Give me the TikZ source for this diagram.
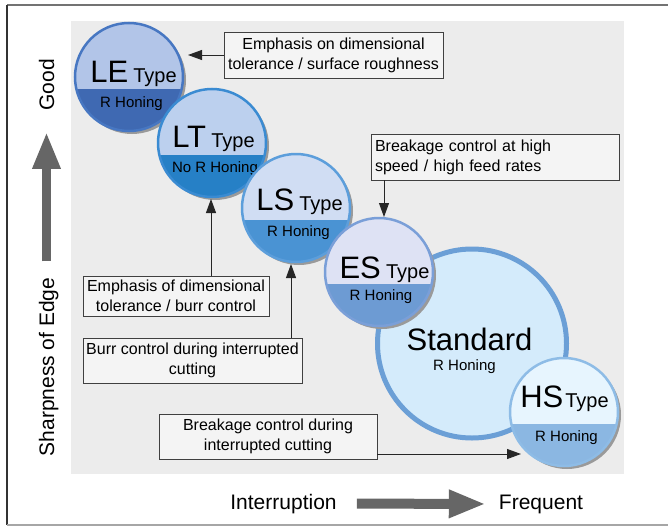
\documentclass[tikz,border=0pt]{standalone}
\usepackage{fontspec}
\setmainfont{Liberation Sans}
\usetikzlibrary{arrows.meta}

\definecolor{panelgray}{HTML}{ECECEC}
\definecolor{boxgray}{HTML}{404040}
\definecolor{axisgray}{HTML}{666666}
\definecolor{shadowgray}{HTML}{9A9A9A}
\definecolor{leTop}{HTML}{B2C5E8}
\definecolor{leBot}{HTML}{3F69B2}
\definecolor{leRing}{HTML}{4777C2}
\definecolor{ltTop}{HTML}{BCD0EE}
\definecolor{ltBot}{HTML}{2680C6}
\definecolor{ltRing}{HTML}{3A8BD2}
\definecolor{lsTop}{HTML}{D0DDF3}
\definecolor{lsBot}{HTML}{4A93D3}
\definecolor{lsRing}{HTML}{5C9EDB}
\definecolor{esTop}{HTML}{DEE2F4}
\definecolor{esBot}{HTML}{6D9BD3}
\definecolor{esRing}{HTML}{7A9FD8}
\definecolor{stdFill}{HTML}{D4EBFB}
\definecolor{stdRing}{HTML}{6B9FD6}
\definecolor{hsTop}{HTML}{E7F5FE}
\definecolor{hsBot}{HTML}{8BB7E2}
\definecolor{hsRing}{HTML}{8EBCE6}

\newcommand{\gradefont}{\fontsize{31}{31}\selectfont}
\newcommand{\kindfont}{\fontsize{20}{20}\selectfont}
\newcommand{\honefont}{\fontsize{15}{15}\selectfont}

% two-tone insert circle: name, x, y, top, bottom, ring
\newcommand{\tipcircle}[6]{%
    \fill[shadowgray] (#2+3, #3+3) circle (54);
    \begin{scope}
        \clip (#2, #3) circle (54);
        \fill[#4] (#2-54, #3-54) rectangle (#2+54, #3+12);
        \fill[#5] (#2-54, #3+12) rectangle (#2+54, #3+54);
    \end{scope}
    \node[circle, draw=#6, line width=2.5pt, minimum size=108pt, inner sep=0pt] (#1) at (#2, #3) {};
}

\tikzset{
    callout/.style={draw=boxgray, line width=0.8pt, fill=white!40!panelgray, align=center,
        inner sep=0pt, font=\fontsize{16}{20}\selectfont},
    pointer/.style={-{Triangle[length=14pt, width=10pt]}, line width=0.9pt, black!85},
    axisarrow/.style={-{Triangle[length=37pt, width=26pt]}, axisgray},
    axistext/.style={inner sep=0pt, font=\fontsize{21}{21}\selectfont},
}

\begin{document}
\begin{tikzpicture}[x=1pt, y=-1pt]
    \useasboundingbox (0, 0) rectangle (668, 527);

    % frame and panel
    \draw[black!55, line width=1.5pt] (668, 5) -- (7, 5);
    \draw[black!80, line width=1.5pt] (7, 5) -- (7, 525);
    \draw[black!35, line width=1.5pt] (7, 525) -- (668, 525);
    \fill[panelgray] (71, 21) rectangle (624, 474);

    % inserts
    \tipcircle{le}{129}{77}{leTop}{leBot}{leRing}
    \node[anchor=base] (leType) at (133.5, 82) {\gradefont LE\,\kindfont Type};
    \node[anchor=base, font=\honefont] (leSub) at (131.5, 107) {R Honing};

    \tipcircle{lt}{212}{143}{ltTop}{ltBot}{ltRing}
    \node[anchor=base] (ltType) at (213.5, 147) {\gradefont LT\,\kindfont Type};
    \node[anchor=base, font=\honefont] (ltSub) at (215, 172) {No R Honing};

    \tipcircle{ls}{296}{208}{lsTop}{lsBot}{lsRing}
    \node[anchor=base] (lsType) at (299.5, 210) {\gradefont LS\,\kindfont Type};
    \node[anchor=base, font=\honefont] (lsSub) at (298.5, 236) {R Honing};

    \fill[stdFill] (472, 343.5) circle (94.5);
    \node[circle, draw=stdRing, line width=5pt, minimum size=189pt, inner sep=0pt] (std) at (472, 343.5) {};
    \node[anchor=base, font=\fontsize{31}{31}\selectfont] (stdType) at (469.5, 350) {Standard};
    \node[anchor=base, font=\honefont] (stdSub) at (464.5, 370) {R Honing};

    \tipcircle{es}{379}{272}{esTop}{esBot}{esRing}
    \node[anchor=base] (esType) at (384.5, 278) {\gradefont ES\,\kindfont Type};
    \node[anchor=base, font=\honefont] (esSub) at (381, 300) {R Honing};

    \tipcircle{hs}{564}{412}{hsTop}{hsBot}{hsRing}
    \node[anchor=base] (hsType) at (564.5, 407) {\gradefont HS\kern2pt\kindfont Type};
    \node[anchor=base, font=\honefont] (hsSub) at (566.5, 441) {R Honing};

    % notes
    \node[callout, minimum width=219pt, minimum height=46pt] (noteLE) at (333.5, 55)
        {Emphasis on dimensional\\tolerance / surface roughness};
    \node[callout, align=left, text width=240pt, inner sep=4pt, minimum height=46pt] (noteES) at (495, 157)
        {Breakage control at high\\speed / high feed rates};
    \node[callout, minimum width=186pt, minimum height=40pt] (noteLT) at (176, 296)
        {Emphasis of dimensional\\tolerance / burr control};
    \node[callout, minimum width=219pt, minimum height=45pt] (noteLS) at (192.5, 360.5)
        {Burr control during interrupted\\cutting};
    \node[callout, minimum width=218pt, minimum height=45pt] (noteHS) at (268, 436.5)
        {Breakage control during\\interrupted cutting};

    \coordinate (tipLE) at (188, 55);
    \coordinate (tipES) at (384, 217);
    \coordinate (tipLT) at (211, 199);
    \coordinate (tipLS) at (291, 264);
    \coordinate (tipHS) at (521, 454);

    \draw[pointer] (noteLE.west) -- (tipLE);
    \draw[pointer] (noteES.south -| tipES) -- (tipES);
    \draw[pointer] (noteLT.north -| tipLT) -- (tipLT);
    \draw[pointer] (noteLS.north -| tipLS) -- (tipLS);
    \draw[pointer] (noteHS.east |- tipHS) -- (tipHS);

    % axes
    \node[axistext, rotate=90, anchor=base] (good) at (54, 85) {Good};
    \node[axistext, rotate=90, anchor=base] (sharp) at (54, 367) {Sharpness of Edge};
    \draw[axisarrow, line width=9pt, shorten <=16pt, shorten >=21pt] (good.west |- sharp.east) -- (good.west);

    \node[axistext, anchor=base] (interr) at (283.5, 509) {Interruption};
    \node[axistext, anchor=base] (freq) at (541, 509) {Frequent};
    \draw[axisarrow, line width=10pt] ([xshift=20pt]interr.east) -- ([xshift=-13pt]freq.west);
\end{tikzpicture}
\end{document}
